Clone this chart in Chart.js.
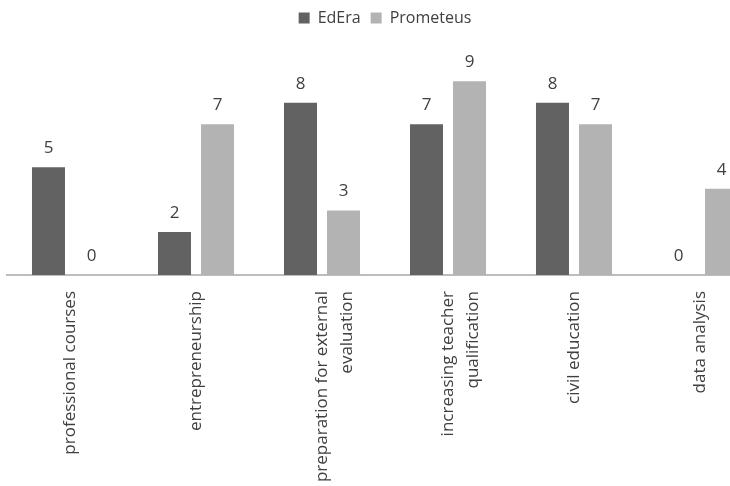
<!DOCTYPE html>
<html>
<head>
<meta charset="utf-8">
<script src="https://cdn.jsdelivr.net/npm/chart.js@4"></script>
<style>
    html, body { margin: 0; padding: 0; background: #fff; overflow: hidden; }
    #wrap { width: 730px; height: 486px; overflow: hidden; }
</style>
</head>
<body>
<div id="wrap">
    <canvas id="courseChart" width="780" height="486"></canvas>
</div>
<script>
// Chart data
const categories = [
    'professional courses',
    'entrepreneurship',
    ['preparation for external', 'evaluation'],
    ['increasing teacher', 'qualification'],
    'civil education',
    'data analysis'
];
const edEraValues = [5, 2, 8, 7, 8, 0];
const prometeusValues = [0, 7, 3, 9, 7, 4];

const textColor = '#404040';
const fontFamily = "'Open Sans', 'DejaVu Sans', sans-serif";

// Draws the number above each bar
const valueLabels = {
    id: 'valueLabels',
    afterDatasetsDraw(chart) {
        const ctx = chart.ctx;
        ctx.save();
        ctx.font = '17px ' + fontFamily;
        ctx.fillStyle = textColor;
        ctx.textAlign = 'center';
        ctx.textBaseline = 'middle';
        chart.data.datasets.forEach((ds, i) => {
            chart.getDatasetMeta(i).data.forEach((bar, j) => {
                ctx.fillText(ds.data[j], bar.x, bar.y - 19);
            });
        });
        ctx.restore();
    }
};

function createChart() {
    const ctx = document.getElementById('courseChart').getContext('2d');

    new Chart(ctx, {
        type: 'bar',
        data: {
            labels: categories,
            datasets: [{
                label: 'EdEra',
                data: edEraValues,
                backgroundColor: '#626262',
                categoryPercentage: 0.683,
                barPercentage: 0.767
            }, {
                label: 'Prometeus',
                data: prometeusValues,
                backgroundColor: '#b3b3b3',
                categoryPercentage: 0.683,
                barPercentage: 0.767
            }]
        },
        options: {
            responsive: false,
            animation: false,
            layout: {
                padding: { left: 7, right: 17, top: 0, bottom: 0 }
            },
            plugins: {
                legend: {
                    position: 'top',
                    labels: {
                        boxWidth: 11,
                        boxHeight: 11,
                        padding: 10,
                        color: textColor,
                        font: { family: fontFamily, size: 16 }
                    }
                },
                tooltip: { enabled: false }
            },
            scales: {
                x: {
                    grid: { display: false },
                    border: { display: true, color: '#bdbdbd', width: 2 },
                    ticks: {
                        autoSkip: false,
                        minRotation: 90,
                        maxRotation: 90,
                        padding: 8,
                        color: textColor,
                        font: { family: fontFamily, size: 17, lineHeight: 1.47 }
                    },
                    afterFit(scale) {
                        scale.height = 211;
                    }
                },
                y: {
                    display: false,
                    beginAtZero: true,
                    min: 0,
                    max: 11.1
                }
            }
        },
        plugins: [valueLabels]
    });
}

window.onload = function () {
    createChart();
};
</script>
</body>
</html>
